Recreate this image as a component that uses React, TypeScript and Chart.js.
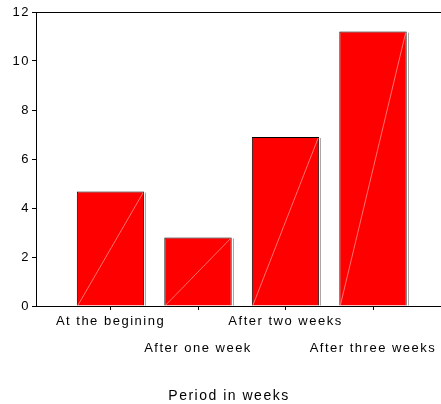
import React, { useEffect, useRef } from 'react';
import { Chart, registerables } from 'chart.js';

Chart.register(...registerables);

// Bar chart data
const periods = ['At the begining', 'After one week', 'After two weeks', 'After three weeks'];
const counts = [4.67, 2.8, 6.9, 11.2];
const yTicks = [0, 2, 4, 6, 8, 10, 12];
const xAxisTitle = 'Period in weeks';

const FONT = "'Liberation Sans', Arial, Helvetica, sans-serif";

// Wide letter spacing for all labels, a light diagonal stroke and a grey right edge on each bar
const barDecor = {
  id: 'barDecor',
  beforeUpdate(chart: any) {
    chart.ctx.letterSpacing = '1.5px';
  },
  afterLayout(chart: any) {
    // the axis title sits a little left of the plot centre
    if (chart.titleBlock) chart.titleBlock.left = 17;
  },
  afterDatasetsDraw(chart: any) {
    const ctx = chart.ctx;
    const meta = chart.getDatasetMeta(0);
    ctx.save();
    ctx.lineWidth = 1;
    meta.data.forEach((bar: any) => {
      const { x, y, base, width } = bar.getProps(['x', 'y', 'base', 'width'], true);
      const l = x - width / 2;
      const r = x + width / 2;
      ctx.strokeStyle = 'rgba(255,150,150,0.75)';
      ctx.beginPath();
      ctx.moveTo(l + 1, base);
      ctx.lineTo(r - 1, y + 1);
      ctx.stroke();
      ctx.strokeStyle = '#a8a8a8';
      const ex = Math.round(r) + 1.5;
      ctx.beginPath();
      ctx.moveTo(ex, y + 1);
      ctx.lineTo(ex, base);
      ctx.stroke();
    });
    ctx.restore();
  },
};

export default function App() {
  const canvasRef = useRef<HTMLCanvasElement | null>(null);

  useEffect(() => {
    const canvas = canvasRef.current;
    if (!canvas) return;

    const chart = new Chart(canvas, {
      type: 'bar',
      data: {
        datasets: [
          {
            data: counts.map((v, i) => ({ x: i, y: v })),
            backgroundColor: '#ff0000',
            borderColor: '#000000',
            borderWidth: 1,
            barPercentage: 0.77,
            categoryPercentage: 1,
          },
        ],
      },
      options: {
        responsive: false,
        animation: false,
        events: [],
        layout: { padding: { left: 0, top: 12, right: 0, bottom: 0 } },
        plugins: {
          legend: { display: false },
          tooltip: { enabled: false },
          title: {
            display: true,
            text: xAxisTitle,
            position: 'bottom',
            color: '#000',
            font: { family: FONT, size: 14, weight: 'normal', lineHeight: '16px' },
            padding: { top: 0, bottom: 0 },
          },
        },
        scales: {
          x: {
            type: 'linear',
            position: 'bottom',
            min: -0.8514,
            max: 3.7771,
            offset: false,
            grid: {
              offset: false,
              drawOnChartArea: false,
              drawTicks: true,
              tickLength: 4,
              color: '#000',
            },
            border: { display: true, color: '#000', width: 1 },
            ticks: {
              autoSkip: false,
              maxRotation: 0,
              minRotation: 0,
              padding: -2,
              color: '#000',
              font: { family: FONT, size: 13, lineHeight: '26.7px' },
              callback: (value: any) => {
                const i = Math.round(Number(value));
                const name = periods[i] ?? '';
                return i % 2 === 0 ? [name] : ['', name];
              },
            },
            afterBuildTicks: (axis: any) => {
              axis.ticks = periods.map((_, i) => ({ value: i }));
            },
            afterFit: (axis: any) => {
              axis.height = 82;
              axis.paddingLeft = 0;
              axis.paddingRight = 0;
            },
          },
          x2: {
            type: 'linear',
            position: 'top',
            min: 0,
            max: 1,
            grid: { drawOnChartArea: false, drawTicks: false },
            border: { display: true, color: '#000', width: 1 },
            ticks: { display: false },
            afterFit: (axis: any) => {
              axis.height = 0;
              axis.paddingLeft = 0;
              axis.paddingRight = 0;
            },
          },
          y: {
            type: 'linear',
            position: 'left',
            min: 0,
            max: 12,
            grid: {
              drawOnChartArea: false,
              drawTicks: true,
              tickLength: 4,
              color: '#000',
            },
            border: { display: true, color: '#000', width: 1 },
            ticks: {
              padding: 2,
              color: '#000',
              font: { family: FONT, size: 13 },
            },
            afterBuildTicks: (axis: any) => {
              axis.ticks = yTicks.map((v) => ({ value: v }));
            },
            afterFit: (axis: any) => {
              axis.width = 36;
              axis.paddingTop = 0;
              axis.paddingBottom = 0;
            },
          },
        },
      },
      plugins: [barDecor],
    });

    return () => chart.destroy();
  }, []);

  return (
    <div style={{ position: 'fixed', left: 0, top: 0, width: 441, height: 404, background: '#fff' }}>
      <canvas ref={canvasRef} width={441} height={404} style={{ display: 'block' }} />
    </div>
  );
}
